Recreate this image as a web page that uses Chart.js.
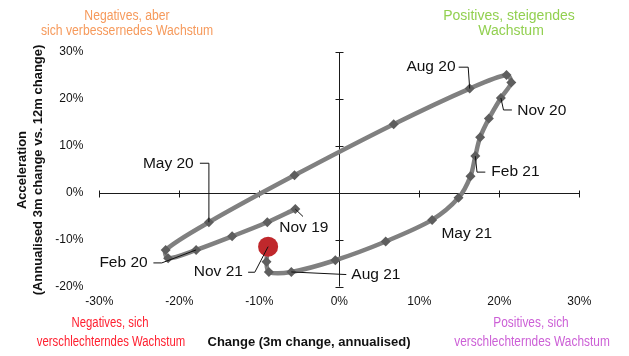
<!DOCTYPE html>
<html><head><meta charset="utf-8">
<script src="https://cdn.jsdelivr.net/npm/chart.js@4.4.1/dist/chart.umd.min.js"></script>
<style>html,body{margin:0;padding:0;background:#fff;}#wrap{width:629px;height:356px;position:relative;}</style>
</head><body><div id="wrap"><canvas id="c" width="629" height="356"></canvas></div>
<script>
// ---- data ----
const months = ["Nov 19","Dec 19","Jan 20","Feb 20","Mar 20","Apr 20","May 20","Jun 20","Jul 20","Aug 20","Sep 20","Oct 20","Nov 20","Dec 20","Jan 21","Feb 21","Mar 21","Apr 21","May 21","Jun 21","Jul 21","Aug 21","Sep 21","Oct 21","Nov 21"];
const changeX = [-5.5,-9.0,-13.4,-17.9,-21.4,-21.7,-16.3,-5.6,6.8,16.3,20.9,21.5,20.2,18.7,17.6,17.0,16.4,14.9,11.6,5.8,-0.5,-6.0,-8.8,-9.1,-8.9];
const accelY = [-3.5,-6.3,-9.3,-12.2,-14.0,-12.2,-6.3,3.7,14.6,22.2,25.1,23.5,20.2,15.8,11.8,7.8,3.5,-1.1,-5.8,-10.4,-14.4,-16.9,-16.9,-14.7,-11.5];
const xTickValues = [-30,-20,-10,0,10,20,30];
const yTickValues = [-20,-10,0,10,20,30];
const annotated = ["Nov 19","Feb 20","May 20","Aug 20","Nov 20","Feb 21","May 21","Aug 21","Nov 21"];
const xTitle = "Change (3m change, annualised)";
const yTitle = ["Acceleration","(Annualised 3m change vs. 12m change)"];
const quadNW = ["Negatives, aber","sich verbessernedes Wachstum"];
const quadNE = ["Positives, steigendes","Wachstum"];
const quadSW = ["Negatives, sich","verschlechterndes Wachstum"];
const quadSE = ["Positives, sich","verschlechterndes Wachstum"];

// ---- label layout (pixel offsets from the point) ----
const labelLayout = {
  "Nov 19": {dx:-16, dy:18.7, leader:[[0,0],[7.7,7.4]]},
  "Feb 20": {dx:-96.7, dy:12.7, leader:[[-42.7,13],[-34.3,13],[0,0]]},
  "May 20": {dx:-66, dy:-59, leader:[[-9,-59],[0,-59],[0,0]]},
  "Aug 20": {dx:-63.3, dy:-21.4, leader:[[-11,-21.4],[-1.5,-21.4],[0,0]]},
  "Nov 20": {dx:16.3, dy:13, leader:[[0,0],[2.6,12],[11,12]]},
  "Feb 21": {dx:16, dy:16, leader:[[0,0],[1.7,16],[10,16]]},
  "May 21": {dx:9.3, dy:14.3, leader:null},
  "Aug 21": {dx:60, dy:2.6, leader:[[0,0],[55,2.6]]},
  "Nov 21": {dx:-74.3, dy:25, leader:[[-20,25.6],[-13.3,25.6],[0,0]]}
};

const FONT = "'Liberation Sans', Arial, Helvetica, sans-serif";
const last = months.length - 1;
const pts = changeX.map((v,i)=>({x:v, y:accelY[i]}));

function drawText(ctx, txt, cx, cy, font, color, sx, align){
  ctx.save(); ctx.font = font; ctx.fillStyle = color;
  ctx.textAlign = align || 'center'; ctx.textBaseline = 'middle';
  ctx.translate(cx, cy); ctx.scale(sx || 1, 1); ctx.fillText(txt, 0, 0); ctx.restore();
}

const overlay = {
  id: 'overlay',
  beforeDatasetsDraw(chart){
    const {ctx, chartArea:a, scales:{x, y}} = chart;
    const x0 = Math.round(x.getPixelForValue(0)) + 0.5;
    const y0 = Math.round(y.getPixelForValue(0)) + 0.5;
    ctx.save(); ctx.strokeStyle = '#1a1a1a'; ctx.lineWidth = 1;
    ctx.beginPath();
    ctx.moveTo(a.left, y0); ctx.lineTo(a.right, y0);
    ctx.moveTo(x0, a.top); ctx.lineTo(x0, a.bottom);
    xTickValues.forEach(v=>{ const px = Math.round(x.getPixelForValue(v)) + 0.5; ctx.moveTo(px, y0-3); ctx.lineTo(px, y0+4); });
    yTickValues.forEach(v=>{ const py = Math.round(y.getPixelForValue(v)) + 0.5; ctx.moveTo(x0-4, py); ctx.lineTo(x0+4, py); });
    ctx.stroke(); ctx.restore();
  },
  afterDatasetsDraw(chart){
    const {ctx, scales:{x, y}} = chart;
    ctx.save();
    annotated.forEach(m=>{
      const i = months.indexOf(m); const L = labelLayout[m];
      const px = x.getPixelForValue(changeX[i]), py = y.getPixelForValue(accelY[i]);
      if (L.leader){
        ctx.strokeStyle = '#111'; ctx.lineWidth = 1; ctx.beginPath();
        L.leader.forEach((p,k)=>{ const X = px+p[0], Y = py+p[1]; if(k===0) ctx.moveTo(X,Y); else ctx.lineTo(X,Y); });
        ctx.stroke();
      }
      drawText(ctx, m, px+L.dx, py+L.dy, "15.5px "+FONT, '#111', 1, 'left');
    });
    ctx.restore();
  },
  afterDraw(chart){
    const {ctx} = chart;
    // axis titles
    drawText(ctx, xTitle, 309, 342, "bold 13px "+FONT, '#111', 1);
    ctx.save(); ctx.translate(22, 170); ctx.rotate(-Math.PI/2);
    drawText(ctx, yTitle[0], 0, 0, "bold 13px "+FONT, '#111', 1);
    drawText(ctx, yTitle[1], 0, 16, "bold 13px "+FONT, '#111', 1);
    ctx.restore();
    // quadrant captions
    const f14 = "14px "+FONT;
    drawText(ctx, quadNW[0], 127, 16, f14, '#F69A5C', 0.87);
    drawText(ctx, quadNW[1], 127, 31, f14, '#F69A5C', 0.87);
    drawText(ctx, quadNE[0], 509, 16, f14, '#92D050', 1);
    drawText(ctx, quadNE[1], 511, 31, f14, '#92D050', 1);
    drawText(ctx, quadSW[0], 110, 323, f14, '#FF2030', 0.81);
    drawText(ctx, quadSW[1], 111, 342, f14, '#FF2030', 0.81);
    drawText(ctx, quadSE[0], 531, 323, f14, '#CC5FD6', 0.85);
    drawText(ctx, quadSE[1], 532, 342, f14, '#CC5FD6', 0.85);
  }
};

Chart.defaults.font.family = FONT;
new Chart(document.getElementById('c'), {
  type: 'scatter',
  data: { datasets: [{
    data: pts,
    showLine: true,
    tension: 0.3,
    borderColor: '#808080',
    borderWidth: 4.5,
    pointStyle: pts.map((p,i)=> i===last ? 'circle' : 'rectRot'),
    pointRadius: pts.map((p,i)=> i===last ? 10 : 5),
    pointBackgroundColor: pts.map((p,i)=> i===last ? '#C0282C' : '#5E5E5E'),
    pointBorderColor: pts.map((p,i)=> i===last ? '#C0282C' : '#5E5E5E'),
    pointBorderWidth: 0
  }]},
  options: {
    responsive: false, animation: false,
    layout: { padding: { top: 52, right: 49.7, left: 0, bottom: 0 } },
    plugins: { legend: {display:false}, tooltip: {enabled:false} },
    scales: {
      x: { type: 'linear', min: -30, max: 30,
        grid: {display:false, drawTicks:false}, border: {display:false},
        afterFit: s => { s.height = 69.5; },
        afterBuildTicks: s => { s.ticks = xTickValues.map(v=>({value:v})); },
        ticks: { padding: 8, color: '#111', font: {size: 12}, callback: v => v + '%', maxRotation: 0 } },
      y: { type: 'linear', min: -20, max: 30,
        grid: {display:false, drawTicks:false}, border: {display:false},
        afterFit: s => { s.width = 99.3; },
        afterBuildTicks: s => { s.ticks = yTickValues.map(v=>({value:v})); },
        ticks: { padding: 16, color: '#111', font: {size: 12}, callback: v => v + '%' } }
    }
  },
  plugins: [overlay]
});
</script></body></html>
